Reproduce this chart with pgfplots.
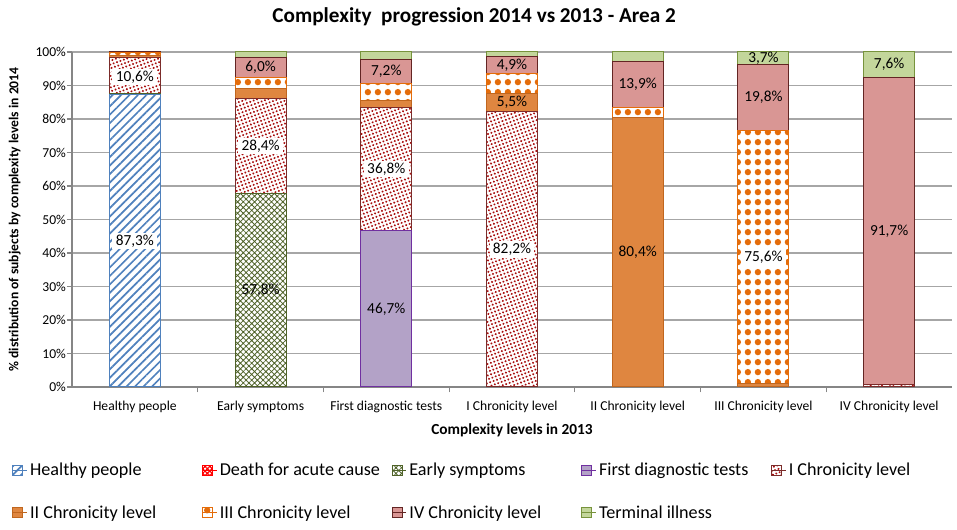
\documentclass[border=0pt]{standalone}
\usepackage{fontspec}
\setmainfont{Carlito}
\usepackage{pgfplots}
\usepackage{pgfplotstable}
\pgfplotsset{compat=1.18}
\usetikzlibrary{patterns.meta}

\definecolor{hblue}{HTML}{4F81BD}
\definecolor{dred}{HTML}{FF0000}
\definecolor{oliv}{HTML}{4F6228}
\definecolor{purpfill}{HTML}{B3A2C7}
\definecolor{purpline}{HTML}{7030A0}
\definecolor{ichron}{HTML}{A80F0F}
\definecolor{ichronline}{HTML}{7B2C2A}
\definecolor{iifill}{HTML}{DF8640}
\definecolor{iiline}{HTML}{C0661E}
\definecolor{iiidot}{HTML}{E46C0A}
\definecolor{ivfill}{HTML}{D99694}
\definecolor{ivline}{HTML}{632523}
\definecolor{tfill}{HTML}{C3D69B}
\definecolor{tline}{HTML}{77933C}
\definecolor{gridc}{HTML}{A6A6A6}
\definecolor{axisc}{HTML}{868686}

\pgfplotstableread{
x H D E F I II III IV T
0 87.3 0 0.4 0 10.6 0.6 0.8 0.3 0
1 0 0 57.8 0 28.4 3.0 3.1 6.0 1.7
2 0 0 0 46.7 36.8 1.9 5.3 7.2 2.1
3 0 0 0 0 82.2 5.5 6.0 4.9 1.4
4 0 0 0 0 0 80.4 2.9 13.9 2.8
5 0 0 0 0 0 0.9 75.6 19.8 3.7
6 0 0 0 0 0.7 0 0 91.7 7.6
}\datatab

\pgfplotstableread{
x y v
0 43.65 87.3
0 92.6 10.6
1 72.0 28.4
2 65.1 36.8
3 41.1 82.2
5 38.7 75.6
}\boxlabels

\pgfplotstableread{
x y v
1 28.9 57.8
1 95.3 6.0
2 23.35 46.7
2 94.2 7.2
3 84.95 5.5
3 96.15 4.9
4 40.2 80.4
4 90.25 13.9
5 86.4 19.8
5 98.15 3.7
6 46.55 91.7
6 96.2 7.6
}\plainlabels

\begin{document}
\begin{tikzpicture}
\begin{axis}[
  ybar stacked,
  bar width=38.25pt,
  width=660pt, height=251.25pt, scale only axis,
  xmin=-0.5, xmax=6.5, ymin=0, ymax=100,
  ytick={0,10,...,100},
  yticklabel={\pgfmathprintnumber{\tick}\%},
  /pgf/number format/assume math mode=true,
  xtick={0,...,6},
  xticklabels={Healthy people, Early symptoms, First diagnostic tests, I Chronicity level, II Chronicity level, III Chronicity level, IV Chronicity level},
  major x tick style={draw=none},
  minor xtick={0.5,1.5,...,5.5},
  tick align=outside,
  major tick length=4pt,
  minor tick length=4pt,
  tick style={axisc, line width=0.8pt},
  axis lines*=left,
  axis line style={axisc, line width=0.8pt},
  ymajorgrids,
  grid style={gridc, line width=0.8pt},
  tick label style={font=\fontsize{10.2}{12}\selectfont, black},
  xticklabel style={yshift=-3pt},
  yticklabel style={xshift=3pt},
  title={Complexity\ \ progression 2014 vs 2013 - Area 2},
  title style={at={(axis description cs:0.457,1.081)}, anchor=center, font=\bfseries\fontsize{15.9}{18}\selectfont},
  xlabel={Complexity levels in 2013},
  xlabel style={at={(axis description cs:0.5,-0.128)}, anchor=center, font=\bfseries\fontsize{11.5}{13}\selectfont},
  ylabel={\% distribution of subjects by complexity levels in 2014},
  ylabel style={at={(axis description cs:-0.065,0.5)}, anchor=center, font=\bfseries\fontsize{10.2}{12}\selectfont},
  legend columns=5,
  legend cell align=left,
  legend style={at={(axis description cs:-0.068,-0.218)}, anchor=north west, draw=none, fill=none,
    font=\fontsize{13.6}{16}\selectfont, row sep=17pt, inner sep=0pt},
  legend image code/.code={\draw[#1] (0pt,-3.75pt) rectangle (7.5pt,3.75pt); \path (0pt,0pt) -- (10.5pt,0pt);},
]
\addplot[fill=white, draw=hblue, line width=0.75pt, postaction={pattern={Lines[angle=45,distance=4.5pt,line width=1.3pt]}, pattern color=hblue}] table[x=x,y=H] {\datatab};
\addlegendentry{\makebox[127pt][l]{Healthy people}}
\addplot[fill=white, draw=dred, line width=0.75pt, postaction={pattern={Hatch[angle=45,distance=2.5pt,line width=0.9pt]}, pattern color=dred}] table[x=x,y=D] {\datatab};
\addlegendentry{\makebox[127pt][l]{Death for acute cause}}
\addplot[fill=white, draw=oliv, line width=0.75pt, postaction={pattern={Hatch[angle=45,distance=3pt,line width=0.6pt]}, pattern color=oliv}] table[x=x,y=E] {\datatab};
\addlegendentry{\makebox[127pt][l]{Early symptoms}}
\addplot[fill=purpfill, draw=purpline, line width=0.75pt] table[x=x,y=F] {\datatab};
\addlegendentry{\makebox[127pt][l]{First diagnostic tests}}
\addplot[fill=white, draw=ichronline, line width=0.75pt, postaction={pattern={Dots[radius=0.85pt,distance=2.7pt,angle=20]}, pattern color=ichron}] table[x=x,y=I] {\datatab};
\addlegendentry{\makebox[127pt][l]{I Chronicity level}}
\addplot[fill=iifill, draw=iiline, line width=0.75pt] table[x=x,y=II] {\datatab};
\addlegendentry{\makebox[127pt][l]{II Chronicity level}}
\addplot[fill=white, draw=iiidot, line width=0.75pt, postaction={pattern={Dots[radius=2.4pt,distance=7.4pt]}, pattern color=iiidot}] table[x=x,y=III] {\datatab};
\addlegendentry{\makebox[127pt][l]{III Chronicity level}}
\addplot[fill=ivfill, draw=ivline, line width=0.75pt] table[x=x,y=IV] {\datatab};
\addlegendentry{\makebox[127pt][l]{IV Chronicity level}}
\addplot[fill=tfill, draw=tline, line width=0.75pt] table[x=x,y=T] {\datatab};
\addlegendentry{\makebox[127pt][l]{Terminal illness}}
\end{axis}
\begin{axis}[
  width=660pt, height=251.25pt, scale only axis,
  xmin=-0.5, xmax=6.5, ymin=0, ymax=100,
  hide axis, clip=false,
]
\addplot[draw=none, mark=none, point meta=explicit,
  nodes near coords={\pgfmathprintnumber[fixed,fixed zerofill,precision=1,use comma,assume math mode=true]{\pgfplotspointmeta}\%},
  nodes near coords style={anchor=center, fill=white, inner xsep=2.5pt, inner ysep=1.5pt, font=\fontsize{11.5}{13}\selectfont, text=black}]
  table[x=x,y=y,meta=v] {\boxlabels};
\addplot[draw=none, mark=none, point meta=explicit,
  nodes near coords={\pgfmathprintnumber[fixed,fixed zerofill,precision=1,use comma,assume math mode=true]{\pgfplotspointmeta}\%},
  nodes near coords style={anchor=center, inner sep=1.5pt, font=\fontsize{11.5}{13}\selectfont, text=black}]
  table[x=x,y=y,meta=v] {\plainlabels};
\end{axis}
\pgfresetboundingbox
\path (-54pt,-107.25pt) rectangle (663.75pt,290.25pt);
\end{tikzpicture}
\end{document}
